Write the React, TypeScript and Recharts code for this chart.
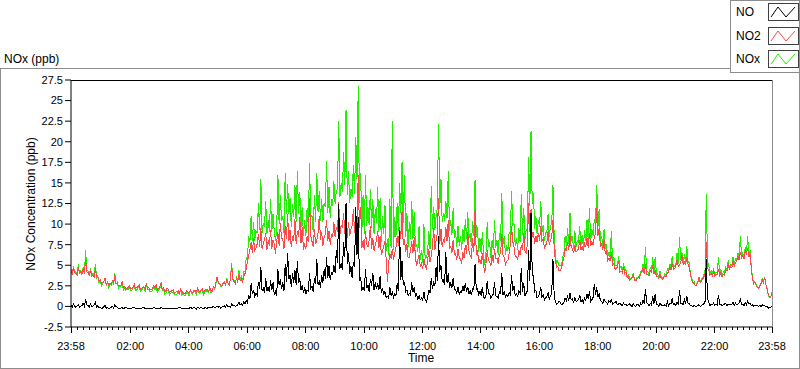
import React from 'react';
import { LineChart, Line, XAxis, YAxis } from 'recharts';

// readings every 5 minutes from 23:58 (one row per hour), plus the trough read
// halfway between each pair of readings (the *_MID arrays)
const STEP_MIN = 5;

const NO = [
  0.1, 0.3, -0.1, 0.2, 0.0, 0.4, 0.9, 0.1, 0.3, 0.0, 0.5, 0.1,
  -0.1, -0.2, 0.1, -0.1, -0.2, 0.0, 0.2, -0.1, -0.2, -0.1, -0.2, -0.2,
  -0.2, -0.2, -0.1, -0.3, -0.2, -0.2, -0.1, -0.2, -0.3, -0.2, -0.1, -0.2,
  -0.2, -0.1, -0.2, -0.3, -0.2, -0.2, -0.3, -0.2, -0.2, -0.1, -0.2, -0.3,
  -0.2, -0.1, -0.2, -0.2, -0.1, -0.2, -0.2, -0.1, -0.2, -0.1, -0.1, -0.1,
  0.0, 0.0, -0.1, 0.1, 0.2, 0.0, 0.3, 0.2, 0.1, 0.5, 0.3, 0.6,
  0.7, 1.4, 2.8, 2.0, 1.6, 3.0, 4.8, 2.2, 3.5, 2.4, 3.2, 2.9,
  1.8, 4.5, 3.3, 2.9, 5.2, 6.5, 3.8, 4.0, 4.4, 5.5, 3.4, 2.6,
  2.3, 2.0, 4.0, 2.5, 3.4, 5.8, 3.0, 3.8, 4.5, 6.0, 4.9, 4.2,
  5.0, 6.8, 12.4, 5.2, 7.8, 12.6, 6.5, 4.9, 5.4, 12.1, 10.8, 3.5,
  2.3, 4.5, 2.6, 3.3, 4.1, 2.9, 2.8, 3.7, 2.1, 1.8, 1.2, 2.4,
  1.7, 1.5, 2.8, 9.3, 5.5, 3.0, 2.0, 1.6, 2.9, 2.4, 1.5, 1.3,
  1.0, 1.8, 0.6, 2.0, 3.4, 2.9, 4.8, 8.5, 5.0, 3.2, 6.6, 4.1,
  2.9, 3.5, 2.0, 2.3, 1.8, 2.5, 2.8, 2.4, 1.9, 2.1, 5.1, 2.2,
  1.9, 2.4, 1.0, 3.1, 1.5, 1.3, 2.9, 1.2, 1.8, 4.0, 1.9, 1.4,
  1.7, 3.8, 2.5, 1.5, 1.9, 4.7, 2.8, 1.6, 6.8, 11.4, 3.6, 2.0,
  1.2, 2.4, 1.4, 1.0, 1.7, 1.3, 5.7, 0.5, 0.4, 0.5, 0.3, 1.0,
  1.2, 1.6, 0.9, 1.1, 0.7, 1.4, 0.8, 1.0, 1.5, 1.9, 0.8, 2.7,
  2.3, 1.5, 0.6, 0.9, 0.5, 0.7, 0.8, 0.4, 0.6, 0.3, 0.2, 0.4,
  0.3, 0.2, 0.1, 0.3, 0.0, 0.2, 0.4, 0.8, 2.1, 0.3, 0.4, 1.2,
  1.5, 0.2, 0.4, 0.1, 0.2, 0.6, 0.4, 1.0, 0.3, 0.5, 2.0, 0.4,
  0.8, 1.3, 0.4, 0.1, 0.1, 0.0, 0.2, 0.1, 0.3, 5.8, 0.5, 0.3,
  0.4, 0.3, 1.4, 0.3, 0.2, 0.4, 0.3, 0.2, 0.5, 0.4, 0.3, 1.0,
  0.3, 0.5, 0.6, 0.4, 0.2, 0.1, 0.1, 0.1, 0.2, 0.1, 0.0, -0.1, 0.0,
];

const NO_MID = [
  -0.1, 0.0, 0.1, -0.1, 0.1, 0.0, 0.2, -0.1, 0.0, 0.2, -0.1, -0.2,
  -0.3, 0.0, -0.2, -0.3, -0.1, -0.2, 0.0, -0.3, -0.2, -0.3, -0.1, -0.3,
  -0.3, -0.1, -0.3, -0.2, -0.3, -0.1, -0.3, -0.2, -0.2, -0.3, -0.2, -0.3,
  -0.3, -0.2, -0.3, -0.2, -0.3, -0.2, -0.2, -0.3, -0.1, -0.3, -0.2, -0.2,
  -0.3, -0.2, -0.1, -0.3, -0.2, -0.1, -0.3, -0.2, -0.1, -0.2, 0.0, -0.1,
  -0.1, -0.2, 0.0, -0.1, 0.0, -0.1, 0.1, 0.0, 0.2, 0.2, 0.1, 0.3,
  0.4, 0.9, 1.5, 1.2, 1.3, 2.1, 1.9, 1.6, 1.9, 1.7, 2.0, 1.5,
  1.3, 2.6, 2.1, 1.9, 3.0, 3.3, 2.4, 2.9, 2.6, 2.8, 2.0, 1.6,
  1.5, 1.9, 2.2, 1.8, 2.7, 2.6, 2.3, 2.9, 3.3, 3.5, 3.2, 3.8,
  4.1, 5.3, 4.6, 4.4, 6.0, 5.2, 4.0, 3.5, 4.8, 6.3, 3.1, 2.0,
  1.9, 2.2, 1.8, 2.5, 2.0, 2.1, 2.0, 1.6, 1.5, 1.1, 1.0, 1.3,
  1.1, 1.3, 1.9, 3.2, 2.6, 1.8, 1.3, 1.4, 1.7, 1.2, 0.9, 0.8,
  0.7, 0.8, 1.0, 1.6, 2.1, 2.5, 3.1, 4.2, 3.0, 2.6, 2.8, 2.2,
  2.2, 2.0, 1.6, 1.5, 1.7, 1.9, 1.8, 1.5, 1.4, 2.0, 2.1, 1.3,
  1.3, 1.1, 1.4, 1.6, 1.0, 1.5, 1.3, 1.0, 1.6, 1.4, 1.1, 1.2,
  1.4, 1.9, 1.3, 1.2, 1.6, 1.8, 1.3, 1.9, 3.1, 4.0, 1.8, 1.0,
  1.6, 1.1, 0.8, 1.2, 0.9, 1.6, 1.4, 0.3, 0.6, 0.2, 0.5, 0.7,
  0.7, 0.8, 0.5, 0.6, 0.8, 0.6, 0.5, 0.7, 0.9, 0.6, 1.1, 1.4,
  1.1, 0.7, 0.4, 0.6, 0.3, 0.5, 0.3, 0.5, 0.2, 0.4, 0.1, 0.2,
  0.1, 0.3, 0.0, 0.1, 0.2, 0.0, 0.2, 0.3, 0.5, 0.1, 0.2, 0.3,
  0.3, 0.0, 0.2, 0.1, 0.0, 0.1, 0.3, 0.2, 0.1, 0.3, 0.4, 0.2,
  0.3, 0.4, 0.1, 0.0, 0.0, 0.1, 0.0, 0.2, 0.6, 0.9, 0.1, 0.2,
  0.1, 0.2, 0.2, 0.1, 0.3, 0.1, 0.2, 0.3, 0.1, 0.2, 0.4, 0.2,
  0.1, 0.2, 0.3, 0.1, 0.0, 0.1, 0.0, 0.0, 0.1, 0.0, -0.2, -0.1,
];

const NO2 = [
  4.3, 4.6, 4.0, 4.8, 4.2, 4.5, 5.8, 4.1, 4.4, 3.8, 4.6, 3.5,
  3.2, 2.9, 3.4, 3.0, 2.8, 3.1, 3.8, 2.9, 2.6, 3.0, 2.4, 2.2,
  2.5, 2.1, 2.7, 2.3, 2.6, 2.2, 2.4, 2.8, 2.3, 2.0, 2.5, 2.6,
  2.2, 2.9, 2.3, 1.9, 2.1, 1.8, 2.0, 1.7, 1.9, 2.1, 1.8, 1.6,
  1.8, 2.0, 1.7, 1.9, 2.2, 1.8, 2.1, 1.9, 2.0, 2.3, 1.9, 2.2,
  3.6, 2.8, 2.5, 2.9, 3.2, 2.6, 5.0, 3.0, 3.4, 3.9, 3.3, 3.6,
  4.5, 6.2, 7.8, 8.3, 7.1, 8.8, 9.5, 7.6, 8.9, 8.0, 9.3, 8.1,
  6.4, 9.0, 10.1, 8.2, 9.8, 11.2, 9.3, 8.5, 10.6, 9.1, 10.8, 9.6,
  7.5, 8.6, 13.2, 7.9, 9.4, 8.1, 11.0, 9.0, 8.4, 10.5, 9.2, 8.8,
  10.3, 9.6, 12.7, 9.9, 11.4, 12.5, 10.2, 9.4, 11.8, 10.6, 16.0, 12.1,
  8.0, 9.1, 7.2, 9.8, 8.3, 7.5, 9.2, 8.6, 6.8, 7.9, 3.0, 6.5,
  7.0, 6.4, 8.5, 9.6, 11.5, 8.2, 7.6, 6.0, 7.9, 8.4, 4.9, 6.2,
  5.2, 5.8, 4.6, 7.0, 6.1, 9.5, 8.0, 13.2, 9.4, 8.1, 9.6, 10.5,
  7.3, 8.1, 6.4, 7.0, 5.8, 6.6, 7.5, 9.0, 6.2, 8.3, 11.8, 6.9,
  5.7, 6.5, 4.1, 6.8, 5.4, 6.2, 7.0, 5.9, 6.3, 8.8, 6.0, 5.5,
  6.5, 9.8, 7.2, 6.0, 6.8, 7.5, 8.9, 6.4, 12.5, 11.8, 9.0, 8.6,
  8.9, 9.8, 8.2, 7.4, 9.1, 8.0, 10.5, 5.6, 4.9, 4.4, 5.4, 7.1,
  7.8, 8.6, 7.0, 7.4, 6.8, 8.1, 7.3, 7.6, 8.3, 8.9, 7.9, 8.4,
  12.1, 9.5, 7.6, 8.0, 6.8, 5.9, 6.6, 5.2, 4.6, 5.5, 4.3, 4.8,
  4.2, 3.6, 3.3, 3.9, 3.1, 3.5, 4.0, 4.6, 5.1, 3.8, 4.4, 5.0,
  4.3, 3.6, 3.9, 3.3, 3.7, 4.0, 4.8, 5.3, 4.6, 5.7, 5.0, 6.2,
  5.4, 6.0, 4.8, 3.2, 2.8, 2.6, 3.4, 3.1, 3.6, 7.8, 4.5, 4.0,
  4.2, 3.8, 4.5, 4.1, 3.9, 4.4, 5.2, 4.8, 5.6, 5.3, 6.1, 6.6,
  6.2, 6.8, 7.1, 6.4, 3.3, 2.9, 2.3, 2.5, 3.2, 3.5, 2.1, 1.1, 1.6,
];

const NO2_MID = [
  3.9, 4.1, 3.8, 4.0, 3.9, 4.0, 4.2, 3.8, 3.7, 3.6, 3.6, 3.1,
  2.8, 3.0, 2.7, 2.6, 2.7, 2.8, 2.7, 2.5, 2.6, 2.3, 2.1, 2.3,
  2.2, 2.4, 2.2, 2.4, 2.1, 2.3, 2.1, 2.2, 2.0, 2.2, 2.2, 2.0,
  2.4, 2.1, 1.8, 2.2, 1.7, 1.9, 1.6, 1.8, 1.6, 1.7, 1.5, 1.9,
  1.6, 1.8, 2.0, 1.7, 1.9, 2.0, 1.7, 2.1, 1.8, 1.9, 2.4, 2.8,
  2.9, 2.6, 2.8, 2.6, 2.8, 3.4, 3.2, 2.8, 3.0, 3.1, 3.0, 4.0,
  5.5, 6.9, 6.5, 6.8, 7.6, 7.2, 7.0, 8.1, 6.9, 7.4, 7.0, 7.6,
  7.9, 7.4, 8.3, 7.0, 8.2, 7.9, 7.2, 8.0, 7.6, 8.4, 7.7, 6.9,
  7.0, 7.8, 8.6, 7.2, 7.6, 8.9, 8.1, 7.4, 8.8, 7.9, 7.5, 8.4,
  8.4, 9.0, 8.7, 9.5, 8.8, 8.3, 8.6, 9.8, 8.9, 9.2, 9.5, 7.1,
  6.9, 7.6, 8.1, 7.0, 6.8, 8.0, 7.1, 6.2, 7.3, 5.6, 5.2, 5.8,
  5.7, 7.1, 7.3, 8.2, 7.5, 6.6, 5.9, 6.8, 6.5, 6.0, 5.7, 4.8,
  4.6, 5.0, 5.5, 5.4, 7.3, 6.8, 8.9, 7.6, 7.2, 7.8, 7.9, 7.0,
  6.5, 6.3, 5.6, 5.9, 5.2, 5.9, 6.4, 6.8, 5.9, 6.6, 6.3, 5.3,
  5.1, 5.0, 5.2, 5.6, 4.9, 5.3, 5.8, 5.2, 6.4, 6.2, 5.1, 5.6,
  7.4, 7.9, 6.1, 5.7, 6.2, 6.9, 6.8, 7.5, 9.1, 8.4, 7.6, 7.8,
  8.0, 7.9, 7.1, 7.8, 7.5, 8.4, 7.2, 4.8, 4.3, 4.6, 5.9, 6.7,
  6.9, 7.2, 6.5, 6.6, 7.0, 6.8, 6.7, 7.2, 7.1, 7.3, 7.5, 8.8,
  8.6, 7.2, 6.9, 6.4, 5.6, 5.5, 5.0, 4.5, 4.8, 4.2, 4.1, 4.0,
  3.5, 3.2, 3.5, 3.2, 3.3, 3.4, 4.1, 4.0, 3.9, 3.7, 4.2, 3.9,
  3.7, 3.4, 3.4, 3.5, 3.6, 4.2, 4.4, 4.5, 4.9, 4.8, 5.3, 5.1,
  5.0, 5.1, 3.9, 2.9, 2.5, 2.9, 2.9, 3.3, 3.9, 4.6, 3.8, 3.7,
  3.7, 3.9, 3.8, 3.6, 3.8, 4.3, 4.5, 4.7, 4.9, 5.5, 5.6, 5.9,
  5.8, 6.3, 6.0, 4.6, 2.8, 2.5, 2.2, 2.8, 2.9, 2.6, 1.4, 1.2,
];

const NOX = [
  4.5, 4.9, 4.2, 5.1, 4.3, 4.8, 6.8, 4.3, 4.7, 4.0, 5.2, 3.7,
  3.2, 2.8, 3.5, 3.0, 2.7, 3.2, 4.0, 2.9, 2.5, 3.0, 2.3, 2.1,
  2.3, 1.9, 2.6, 2.0, 2.4, 2.0, 2.3, 2.6, 2.0, 1.8, 2.4, 2.4,
  2.0, 2.8, 2.1, 1.6, 1.9, 1.6, 1.7, 1.5, 1.7, 2.0, 1.6, 1.3,
  1.6, 1.9, 1.5, 1.7, 2.1, 1.6, 1.9, 1.8, 1.8, 2.2, 1.8, 2.1,
  3.6, 2.8, 2.4, 3.0, 3.4, 2.6, 5.3, 3.2, 3.5, 4.4, 3.6, 4.2,
  6.0, 8.5, 11.0, 10.3, 9.2, 12.5, 15.5, 10.1, 12.8, 10.5, 13.0, 11.2,
  8.0, 16.0, 13.5, 11.0, 16.2, 14.9, 13.2, 12.4, 14.8, 16.5, 13.9, 12.1,
  10.5, 12.0, 17.4, 11.1, 13.5, 16.2, 14.0, 13.0, 12.6, 17.6, 14.5, 13.0,
  15.2, 14.0, 22.5, 15.0, 18.8, 23.8, 16.5, 14.3, 17.2, 20.6, 26.8, 16.2,
  13.5, 16.0, 12.1, 14.2, 13.0, 11.8, 14.5, 13.2, 11.0, 12.3, 8.2, 13.0,
  22.5, 10.9, 12.5, 15.0, 17.5, 16.0, 11.4, 10.2, 12.8, 11.5, 7.5, 9.8,
  6.9, 10.0, 6.0, 9.2, 14.6, 12.1, 11.0, 22.1, 15.5, 11.3, 12.8, 16.4,
  10.5, 12.0, 9.1, 9.8, 8.6, 9.4, 10.6, 11.5, 8.9, 10.4, 15.4, 9.6,
  8.3, 9.0, 5.0, 10.2, 7.8, 8.1, 10.5, 8.0, 8.9, 13.8, 8.5, 7.4,
  9.0, 14.0, 10.1, 8.3, 9.5, 13.6, 12.0, 9.3, 18.1, 21.3, 13.8, 11.0,
  10.5, 12.8, 9.9, 9.0, 11.2, 9.8, 14.8, 6.3, 5.5, 5.0, 6.0, 8.6,
  9.5, 11.4, 8.5, 9.2, 8.0, 9.8, 8.7, 9.3, 10.5, 12.0, 9.4, 10.6,
  14.8, 11.8, 8.6, 9.4, 7.6, 6.6, 9.1, 6.0, 5.0, 6.1, 4.9, 5.3,
  4.5, 3.8, 3.4, 4.1, 3.2, 3.6, 4.3, 5.2, 7.2, 4.2, 4.8, 6.0,
  6.0, 4.0, 4.3, 3.5, 4.0, 4.6, 5.2, 6.1, 5.0, 6.5, 8.4, 6.6,
  6.3, 7.3, 5.3, 3.4, 3.0, 2.7, 3.6, 3.3, 3.8, 13.7, 5.0, 4.4,
  4.6, 4.2, 6.0, 4.5, 4.2, 4.8, 5.6, 5.1, 6.0, 5.8, 6.5, 8.5,
  6.5, 7.2, 8.5, 6.8, 3.5, 3.0, 2.4, 2.6, 3.4, 3.6, 2.2, 1.2, 1.7,
];

const NOX_MID = [
  3.8, 4.1, 3.9, 3.9, 4.0, 4.0, 4.4, 3.7, 3.7, 3.8, 3.5, 2.9,
  2.5, 3.0, 2.5, 2.3, 2.6, 2.6, 2.7, 2.2, 2.4, 2.0, 2.0, 2.0,
  1.9, 2.3, 1.9, 2.2, 1.8, 2.2, 1.8, 2.0, 1.8, 1.9, 2.0, 1.7,
  2.1, 1.9, 1.5, 2.0, 1.4, 1.7, 1.4, 1.5, 1.5, 1.4, 1.3, 1.7,
  1.3, 1.6, 1.9, 1.4, 1.7, 1.9, 1.4, 1.9, 1.7, 1.7, 2.4, 2.7,
  2.8, 2.4, 2.8, 2.5, 2.8, 3.3, 3.3, 2.8, 3.2, 3.3, 3.1, 4.3,
  5.9, 7.8, 8.0, 8.0, 8.9, 9.3, 8.9, 9.7, 8.8, 9.1, 9.0, 9.1,
  9.2, 10.0, 10.4, 8.9, 11.2, 11.2, 9.6, 10.9, 10.2, 11.2, 9.7, 8.5,
  8.5, 9.7, 10.8, 9.0, 10.3, 11.5, 10.4, 10.3, 12.1, 11.4, 10.7, 12.2,
  12.5, 14.3, 13.3, 13.9, 14.8, 13.5, 12.6, 13.3, 13.7, 15.5, 12.6, 9.1,
  8.8, 9.8, 9.9, 9.5, 8.8, 10.1, 9.1, 7.8, 8.8, 6.7, 6.2, 7.1,
  6.8, 8.4, 9.2, 11.4, 10.1, 8.4, 7.2, 8.2, 8.2, 7.2, 6.6, 5.6,
  5.3, 5.8, 6.5, 7.0, 9.4, 9.3, 12.0, 11.8, 10.2, 10.4, 10.7, 9.2,
  8.7, 8.3, 7.2, 7.4, 6.9, 7.8, 8.2, 8.3, 7.3, 8.6, 8.4, 6.6,
  6.4, 6.1, 6.6, 7.2, 5.9, 6.8, 7.1, 6.2, 8.0, 7.6, 6.2, 6.8,
  8.8, 9.8, 7.4, 6.9, 7.8, 8.7, 8.1, 9.4, 12.2, 12.4, 9.4, 8.8,
  9.6, 9.0, 7.9, 9.0, 8.4, 10.0, 8.6, 5.1, 4.9, 4.8, 6.4, 7.4,
  7.6, 8.0, 7.0, 7.2, 7.8, 7.4, 7.2, 7.9, 8.0, 7.9, 8.6, 10.2,
  9.7, 7.9, 7.3, 7.0, 5.9, 6.0, 5.3, 5.0, 5.0, 4.6, 4.2, 4.2,
  3.6, 3.5, 3.5, 3.3, 3.5, 3.4, 4.3, 4.3, 4.4, 3.8, 4.4, 4.2,
  4.0, 3.4, 3.6, 3.6, 3.6, 4.3, 4.7, 4.7, 5.0, 5.1, 5.7, 5.3,
  5.3, 5.5, 4.0, 2.9, 2.5, 3.0, 2.9, 3.5, 4.5, 5.5, 3.9, 3.9,
  3.8, 4.1, 4.0, 3.7, 4.1, 4.4, 4.7, 5.0, 5.0, 5.7, 6.0, 6.1,
  5.9, 6.5, 6.3, 4.7, 2.8, 2.6, 2.2, 2.8, 3.0, 2.6, 1.2, 1.1,
];

// minutes after 23:58
const X_TICKS = [0, 122, 242, 362, 482, 602, 722, 842, 962, 1082, 1202, 1322, 1440];
const X_LABELS = ['23:58', '02:00', '04:00', '06:00', '08:00', '10:00', '12:00', '14:00', '16:00', '18:00', '20:00', '22:00', '23:58'];
const Y_TICKS = [-2.5, 0, 2.5, 5, 7.5, 10, 12.5, 15, 17.5, 20, 22.5, 25, 27.5];

const MINOR_TICKS: number[] = [];
for (let m = 2; m <= 1440; m += 12) MINOR_TICKS.push(m);
const ALL_X_TICKS = Array.from(new Set([...X_TICKS, ...MINOR_TICKS])).sort((a, b) => a - b);

const data: { t: number; no: number; no2: number; nox: number }[] = [];
NO.forEach((v, i) => {
  data.push({ t: i * STEP_MIN, no: v, no2: NO2[i], nox: NOX[i] });
  if (i < NO_MID.length) {
    data.push({ t: i * STEP_MIN + STEP_MIN / 2, no: NO_MID[i], no2: NO2_MID[i], nox: NOX_MID[i] });
  }
});

const COLORS = { no: '#000000', no2: '#ff4848', nox: '#22ee00' };
const FONT = '"Liberation Sans", Arial, sans-serif';

const TimeTick = (props: any) => {
  const { x, y, payload } = props;
  const idx = X_TICKS.indexOf(payload.value);
  return (
    <g>
      <line x1={x} x2={x} y1={y} y2={y + (idx >= 0 ? 6 : 3)} stroke="#000" shapeRendering="crispEdges" />
      {idx >= 0 && (
        <text x={x} y={y + 23} textAnchor="middle" fontSize={11} fill="#000" fontFamily={FONT}>
          {X_LABELS[idx]}
        </text>
      )}
    </g>
  );
};

const Swatch = ({ color }: { color: string }) => (
  <svg width={31} height={18} style={{ display: 'block' }}>
    <rect x={0.5} y={0.5} width={30} height={17} fill="#fff" stroke="#404040" />
    <polyline points="3,14 10,4 18,14 27,4" fill="none" stroke={color} strokeWidth={1} />
  </svg>
);

const legendRows = [
  { name: 'NO', color: COLORS.no, top: 3 },
  { name: 'NO2', color: COLORS.no2, top: 27 },
  { name: 'NOx', color: COLORS.nox, top: 50 },
];

export default function App() {
  return (
    <div style={{ position: 'absolute', left: 0, top: 0, width: 800, height: 369, background: '#fff', overflow: 'hidden', fontFamily: FONT, color: '#000' }}>
      {/* outer frame */}
      <div style={{ position: 'absolute', left: 0, top: 68, width: 800, height: 301, boxSizing: 'border-box', border: '1px solid #8c8c8c' }} />

      <div style={{ position: 'absolute', left: 4, top: 52, fontSize: 12 }}>NOx (ppb)</div>

      <div style={{ position: 'absolute', left: 0, top: 0 }}>
        <LineChart width={800} height={369} data={data} margin={{ top: 80, right: 28, bottom: 0, left: 0 }}>
          <XAxis
            dataKey="t"
            type="number"
            domain={[0, 1440]}
            ticks={ALL_X_TICKS}
            interval={0}
            height={42}
            tickSize={0}
            tickMargin={0}
            tick={<TimeTick />}
            axisLine={{ stroke: '#000' }}
          />
          <YAxis
            type="number"
            domain={[-2.5, 27.5]}
            ticks={Y_TICKS}
            interval={0}
            width={71}
            tickSize={6}
            tickMargin={2}
            tick={{ fontSize: 11, fill: '#000', fontFamily: FONT }}
            tickLine={{ stroke: '#000' }}
            axisLine={{ stroke: '#000' }}
            allowDataOverflow
          />
          <Line type="linear" dataKey="nox" stroke={COLORS.nox} strokeWidth={1} dot={false} isAnimationActive={false} shapeRendering="crispEdges" />
          <Line type="linear" dataKey="no2" stroke={COLORS.no2} strokeWidth={1} dot={false} isAnimationActive={false} shapeRendering="crispEdges" />
          <Line type="linear" dataKey="no" stroke={COLORS.no} strokeWidth={1} dot={false} isAnimationActive={false} shapeRendering="crispEdges" />
        </LineChart>
      </div>

      {/* plot frame: top and right edges */}
      <div style={{ position: 'absolute', left: 71, top: 80, width: 701, height: 1, background: '#000' }} />
      <div style={{ position: 'absolute', left: 772, top: 80, width: 1, height: 247, background: '#8c8c8c' }} />

      <div style={{ position: 'absolute', left: 31, top: 204, transform: 'translate(-50%, -50%) rotate(-90deg)', whiteSpace: 'nowrap', fontSize: 12 }}>
        NOx Concentration (ppb)
      </div>
      <div style={{ position: 'absolute', left: 421, top: 351, transform: 'translateX(-50%)', fontSize: 12 }}>Time</div>

      {/* legend */}
      <div style={{ position: 'absolute', left: 730, top: 0, width: 70, height: 73, boxSizing: 'border-box', border: '1px solid #8c8c8c', background: '#fff' }}>
        {legendRows.map((r) => (
          <div key={r.name} style={{ position: 'absolute', left: 0, top: r.top - 1, width: 68, height: 18 }}>
            <span style={{ position: 'absolute', left: 5, top: 2, fontSize: 12 }}>{r.name}</span>
            <div style={{ position: 'absolute', left: 37, top: 0 }}>
              <Swatch color={r.color} />
            </div>
          </div>
        ))}
      </div>
    </div>
  );
}
